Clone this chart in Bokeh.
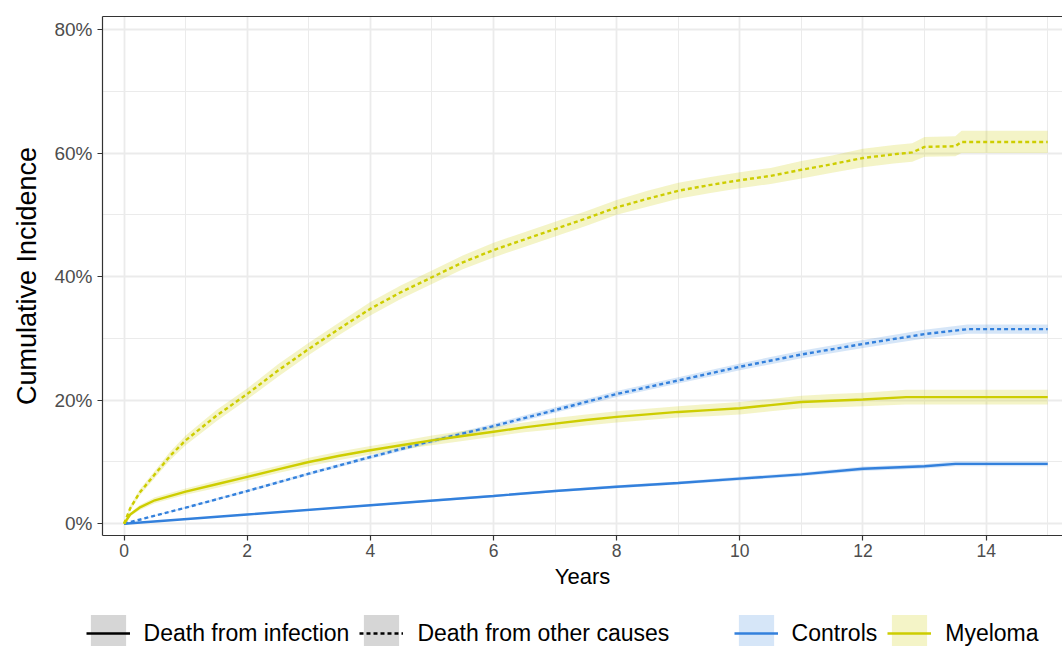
from bokeh.plotting import figure
from bokeh.layouts import column, row
from bokeh.models import (Range1d, FixedTicker, PrintfTickFormatter, Legend, LegendItem,
                          ColumnDataSource, LinearAxis)
from bokeh.embed import file_html
from bokeh.resources import INLINE

# ---------------- data (cumulative incidence, %) ----------------
# Myeloma - death from other causes
mo_t = [0, 0.1, 0.25, 0.5, 0.75, 1, 1.5, 2, 2.5, 3, 3.5, 4, 4.5, 5, 5.5, 6, 6.5, 7, 7.5, 8,
        8.5, 9, 9.5, 10, 10.5, 11, 11.5, 12, 12.5, 12.8, 13.0, 13.5, 13.6, 15]
mo_p = [0, 2.5, 5, 8, 11, 13.5, 17.5, 21, 24.8, 28.3, 31.6, 34.8, 37.5, 39.9, 42.3, 44.3, 46,
        47.7, 49.4, 51.2, 52.6, 53.9, 54.8, 55.6, 56.3, 57.3, 58.2, 59.2, 59.8, 60.1, 61.0,
        61.1, 61.8, 61.8]
mo_hw = [0, 0.4, 0.5, 0.6, 0.7, 0.8, 0.9, 0.9, 1.0, 1.0, 1.0, 1.1, 1.1, 1.1, 1.1, 1.2, 1.2,
         1.2, 1.2, 1.2, 1.3, 1.3, 1.3, 1.3, 1.3, 1.4, 1.4, 1.5, 1.5, 1.5, 1.6, 1.6, 1.8, 1.8]

# Myeloma - death from infection
mi_t = [0, 0.1, 0.25, 0.5, 1, 1.5, 2, 2.5, 3, 3.5, 4, 4.5, 5, 5.5, 6, 6.5, 7, 7.5, 8, 8.5,
        9, 9.5, 10, 10.5, 11, 11.5, 12, 12.7, 15]
mi_p = [0, 1.5, 2.6, 3.8, 5.2, 6.4, 7.6, 8.8, 10.0, 11.0, 11.9, 12.7, 13.5, 14.2, 14.9, 15.6,
        16.2, 16.8, 17.3, 17.7, 18.1, 18.4, 18.7, 19.2, 19.7, 19.9, 20.1, 20.5, 20.5]
mi_hw = [0, 0.3, 0.4, 0.5, 0.5, 0.6, 0.6, 0.6, 0.7, 0.7, 0.7, 0.7, 0.8, 0.8, 0.8, 0.8, 0.9,
         0.9, 0.9, 0.9, 0.9, 1.0, 1.0, 1.0, 1.0, 1.1, 1.1, 1.2, 1.2]

# Controls - death from other causes
co_t = [0, 1, 2, 3, 4, 5, 6, 7, 8, 9, 10, 11, 12, 13, 13.7, 15]
co_p = [0, 2.6, 5.3, 8.1, 10.8, 13.4, 15.8, 18.4, 21.0, 23.2, 25.4, 27.4, 29.1, 30.7, 31.5, 31.5]
co_hw = [0, 0.15, 0.2, 0.25, 0.3, 0.35, 0.4, 0.45, 0.5, 0.5, 0.55, 0.6, 0.65, 0.7, 0.75, 0.75]

# Controls - death from infection
ci_t = [0, 2, 4, 6, 7, 8, 9, 10, 11, 12, 13, 13.5, 15]
ci_p = [0, 1.5, 3.0, 4.5, 5.3, 6.0, 6.6, 7.3, 8.0, 8.9, 9.3, 9.7, 9.7]
ci_hw = [0, 0.1, 0.15, 0.2, 0.2, 0.25, 0.25, 0.3, 0.3, 0.35, 0.35, 0.4, 0.4]

y_ticks = [0, 20, 40, 60, 80]
y_minor = [10, 30, 50, 70]
x_ticks = [0, 2, 4, 6, 8, 10, 12, 14]
x_minor = [1, 3, 5, 7, 9, 11, 13, 15]

cause_labels = ["Death from infection", "Death from other causes"]
group_labels = ["Controls", "Myeloma"]

BLUE = "#3380DC"
YELLOW = "#CDCD00"
FONT = "Liberation Sans"
DASH = "4 3"
LW = 2.4


def src(t, pv, hw):
    return ColumnDataSource(dict(x=t, y=pv,
                                 lo=[a - b for a, b in zip(pv, hw)],
                                 hi=[a + b for a, b in zip(pv, hw)]))


# ---------------- main panel ----------------
p = figure(width=1062, height=600, output_backend="svg", toolbar_location=None,
           x_range=Range1d(-0.35, 15.24), y_range=Range1d(-1.9, 82.1),
           min_border_left=102, min_border_right=0, min_border_top=16, min_border_bottom=65,
           background_fill_color="white", border_fill_color="white")
p.outline_line_color = None

p.xaxis.ticker = FixedTicker(ticks=x_ticks, minor_ticks=x_minor)
p.yaxis.ticker = FixedTicker(ticks=y_ticks, minor_ticks=y_minor)
for g in (p.xgrid, p.ygrid):
    g.grid_line_color = "#EBEBEB"
    g.grid_line_width = 1.8
    g.minor_grid_line_color = "#EBEBEB"
    g.minor_grid_line_width = 1.0

s_mo, s_mi = src(mo_t, mo_p, mo_hw), src(mi_t, mi_p, mi_hw)
s_co, s_ci = src(co_t, co_p, co_hw), src(ci_t, ci_p, ci_hw)

p.varea(x="x", y1="lo", y2="hi", source=s_ci, fill_color=BLUE, fill_alpha=0.2)
p.varea(x="x", y1="lo", y2="hi", source=s_co, fill_color=BLUE, fill_alpha=0.2)
p.varea(x="x", y1="lo", y2="hi", source=s_mi, fill_color=YELLOW, fill_alpha=0.22)
p.varea(x="x", y1="lo", y2="hi", source=s_mo, fill_color=YELLOW, fill_alpha=0.22)

p.line("x", "y", source=s_ci, line_color=BLUE, line_width=LW)
p.line("x", "y", source=s_co, line_color=BLUE, line_width=LW, line_dash=DASH)
p.line("x", "y", source=s_mi, line_color=YELLOW, line_width=LW)
p.line("x", "y", source=s_mo, line_color=YELLOW, line_width=LW, line_dash=DASH)

for ax in (p.xaxis[0], p.yaxis[0]):
    ax.axis_line_color = "#333333"
    ax.axis_line_width = 1.2
    ax.major_tick_line_color = "#333333"
    ax.major_tick_line_width = 1.2
    ax.major_tick_in = 0
    ax.major_tick_out = 5
    ax.minor_tick_line_color = None
    ax.major_label_text_font = FONT
    ax.major_label_text_color = "#4D4D4D"
    ax.axis_label_text_font = FONT
    ax.axis_label_text_font_style = "normal"
    ax.axis_label_text_color = "black"

p.yaxis.formatter = PrintfTickFormatter(format="%d%%")
p.yaxis.major_label_text_font_size = "19px"
p.xaxis.major_label_text_font_size = "17.5px"
p.yaxis.axis_label = "Cumulative Incidence"
p.yaxis.axis_label_text_font_size = "27px"
p.yaxis.major_label_standoff = 5
p.yaxis.axis_label_standoff = 9
p.xaxis.axis_label = "Years"
p.xaxis.axis_label_text_font_size = "22px"
p.xaxis.major_label_standoff = 3
p.xaxis.axis_label_standoff = 4

top = LinearAxis(ticker=FixedTicker(ticks=[]), axis_line_color="#333333", axis_line_width=1.2,
                 major_tick_line_color=None, minor_tick_line_color=None,
                 major_label_text_font_size="0px")
p.add_layout(top, "above")

# ---------------- legend strip ----------------
lp = figure(width=1062, height=46, output_backend="svg", toolbar_location=None,
            x_range=Range1d(0, 1), y_range=Range1d(0, 1), x_axis_type=None, y_axis_type=None,
            min_border=0, background_fill_color="white", border_fill_color="white")
lp.outline_line_color = None
lp.grid.visible = False

nan = float("nan")
proxy = ColumnDataSource(dict(x=[nan], y=[nan]))
k_grey = lp.varea(x="x", y1="y", y2="y", source=proxy, fill_color="#D6D6D6")
k_solid = lp.line("x", "y", source=proxy, line_color="black", line_width=LW)
k_dash = lp.line("x", "y", source=proxy, line_color="black", line_width=LW, line_dash=DASH)
k_blue_fill = lp.varea(x="x", y1="y", y2="y", source=proxy, fill_color=BLUE, fill_alpha=0.2)
k_blue = lp.line("x", "y", source=proxy, line_color=BLUE, line_width=LW)
k_yel_fill = lp.varea(x="x", y1="y", y2="y", source=proxy, fill_color=YELLOW, fill_alpha=0.22)
k_yel = lp.line("x", "y", source=proxy, line_color=YELLOW, line_width=LW)

common = dict(orientation="horizontal", glyph_width=44, glyph_height=46, label_standoff=14,
              spacing=10, padding=0, margin=0, border_line_color=None, background_fill_alpha=0,
              label_text_font=FONT, label_text_font_size="23px", label_text_color="black")

leg1 = Legend(items=[LegendItem(label=cause_labels[0], renderers=[k_grey, k_solid]),
                     LegendItem(label=cause_labels[1], renderers=[k_grey, k_dash])],
              location=(85.6, -10.4), **common)
leg2 = Legend(items=[LegendItem(label=group_labels[0], renderers=[k_blue_fill, k_blue]),
                     LegendItem(label=group_labels[1], renderers=[k_yel_fill, k_yel])],
              location=(733.6, -10.4), **common)
lp.add_layout(leg1)
lp.add_layout(leg2)

open("out.html", "w").write(file_html(column(p, row(lp)), INLINE))
